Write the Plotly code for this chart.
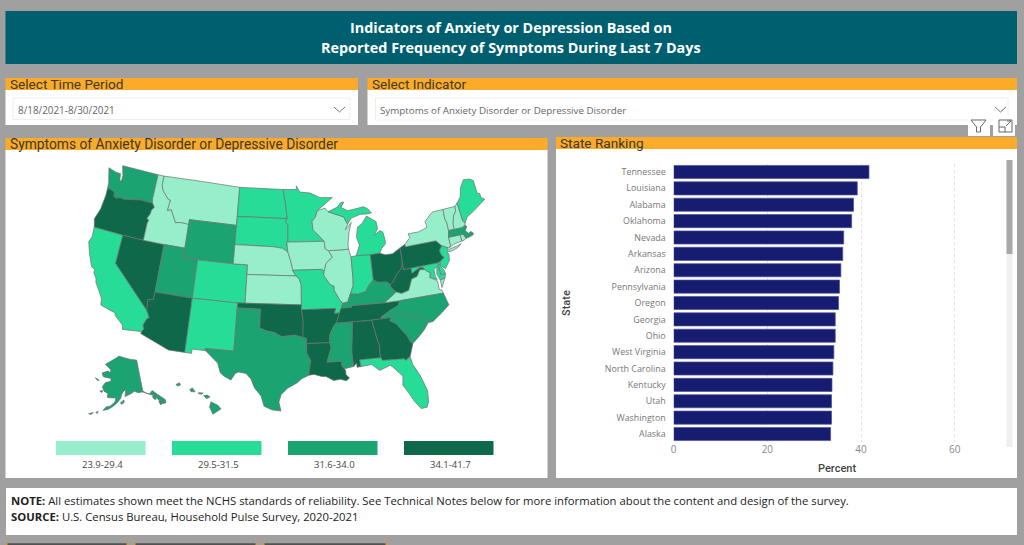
import plotly.graph_objects as go

W, H = 1024, 545
BG = "#a0a0a0"; ORANGE = "#fcaa2a"; TEAL = "#005f6f"
BIN_COLORS = ["#96efca", "#27dc97", "#1ba371", "#10684a"]
BIN_LABELS = ["23.9-29.4", "29.5-31.5", "31.6-34.0", "34.1-41.7"]
BREAKS = [23.9, 29.45, 31.55, 34.05, 41.7]

rank_states = ["Tennessee", "Louisiana", "Alabama", "Oklahoma", "Nevada", "Arkansas", "Arizona", "Pennsylvania",
               "Oregon", "Georgia", "Ohio", "West Virginia", "North Carolina", "Kentucky", "Utah", "Washington", "Alaska"]
rank_values = [41.7, 39.2, 38.4, 38.0, 36.3, 36.1, 35.7, 35.4, 35.2, 34.5, 34.5, 34.2, 34.0, 33.8, 33.7, 33.7, 33.5]

state_values = dict(TN=41.7, LA=39.2, AL=38.4, OK=38.0, NV=36.3, AR=36.1, AZ=35.7, PA=35.4, OR=35.2, GA=34.5, OH=34.5,
                    WV=34.2, NC=34.0, KY=33.8, UT=33.7, WA=33.7, AK=33.5, TX=33.2, MS=33.0, SC=32.8, WY=32.5, HI=32.2,
                    MA=31.8, CA=31.4, NM=31.2, CO=31.0, ND=30.8, SD=30.6, MN=30.5, MO=31.0, IN=31.2, MI=31.3, FL=31.1,
                    NJ=30.5, MD=30.3, DE=31.0, ME=30.2, MT=29.2, ID=29.0, NE=28.5, KS=28.8, IA=28.4, WI=28.0, IL=28.6,
                    NY=28.9, VA=29.1, NH=27.5, VT=26.5, CT=27.8, RI=27.0, DC=23.9)

# Simplified state outlines in longitude/latitude; each state is a list of rings.
OUTLINES = {
 "WA": [[(-124.73,48.38),(-123.5,48.13),(-122.75,48.13),(-122.55,47.4),(-122.3,47.4),(-122.3,48.0),(-122.5,48.4),(-122.76,49.0),(-117.03,49.0),(-117.04,46.42),(-116.92,45.99),(-118.98,46.0),(-119.3,45.93),(-119.99,45.82),(-121.2,45.65),(-121.8,45.7),(-122.3,45.55),(-122.76,45.65),(-122.9,46.1),(-123.4,46.23),(-124.0,46.27),(-124.1,46.9),(-124.4,47.6)]],
 "OR": [[(-124.0,46.27),(-123.4,46.23),(-122.9,46.1),(-122.76,45.65),(-122.3,45.55),(-121.8,45.7),(-121.2,45.65),(-119.99,45.82),(-119.3,45.93),(-118.98,46.0),(-116.92,45.99),(-116.5,45.6),(-116.85,45.2),(-116.85,44.9),(-117.2,44.3),(-116.9,44.15),(-117.03,43.83),(-117.03,42.0),(-120.0,42.0),(-124.21,42.0),(-124.55,42.84),(-124.1,44.0),(-123.95,45.5)]],
 "CA": [[(-124.21,42.0),(-120.0,42.0),(-120.0,39.0),(-114.63,35.0),(-114.13,34.3),(-114.43,34.08),(-114.72,33.4),(-114.52,33.03),(-114.72,32.72),(-117.12,32.53),(-117.28,33.0),(-118.4,33.75),(-118.5,34.03),(-119.2,34.15),(-120.5,34.45),(-120.65,35.15),(-121.9,36.6),(-122.0,36.95),(-122.5,37.5),(-122.5,37.83),(-123.0,38.0),(-123.8,39.3),(-124.35,40.4),(-124.1,41.0)]],
 "NV": [[(-120.0,42.0),(-117.03,42.0),(-114.04,42.0),(-114.04,37.0),(-114.04,36.2),(-114.75,36.1),(-114.63,35.0),(-120.0,39.0)]],
 "ID": [[(-117.03,49.0),(-116.05,49.0),(-116.05,48.0),(-115.7,47.45),(-114.7,46.7),(-114.35,46.65),(-114.5,45.55),(-113.95,45.7),(-113.45,45.05),(-113.0,44.45),(-112.3,44.55),(-111.5,44.55),(-111.05,44.48),(-111.05,42.0),(-114.04,42.0),(-117.03,42.0),(-117.03,43.83),(-116.9,44.15),(-117.2,44.3),(-116.85,44.9),(-116.85,45.2),(-116.5,45.6),(-116.92,45.99),(-117.04,46.42)]],
 "MT": [[(-116.05,49.0),(-104.05,49.0),(-104.05,45.94),(-104.05,45.0),(-111.05,45.0),(-111.05,44.48),(-111.5,44.55),(-112.3,44.55),(-113.0,44.45),(-113.45,45.05),(-113.95,45.7),(-114.5,45.55),(-114.35,46.65),(-114.7,46.7),(-115.7,47.45),(-116.05,48.0)]],
 "WY": [[(-111.05,45.0),(-104.05,45.0),(-104.05,43.0),(-104.05,41.0),(-109.05,41.0),(-111.05,41.0),(-111.05,42.0)]],
 "UT": [[(-114.04,42.0),(-111.05,42.0),(-111.05,41.0),(-109.05,41.0),(-109.05,37.0),(-114.04,37.0)]],
 "CO": [[(-109.05,41.0),(-104.05,41.0),(-102.05,41.0),(-102.05,40.0),(-102.05,37.0),(-103.0,37.0),(-109.05,37.0)]],
 "AZ": [[(-114.04,37.0),(-109.05,37.0),(-109.05,31.33),(-111.07,31.33),(-114.81,32.5),(-114.72,32.72),(-114.52,33.03),(-114.72,33.4),(-114.43,34.08),(-114.13,34.3),(-114.63,35.0),(-114.75,36.1),(-114.04,36.2)]],
 "NM": [[(-109.05,37.0),(-103.0,37.0),(-103.04,36.5),(-103.06,32.0),(-106.62,32.0),(-106.53,31.78),(-108.21,31.78),(-108.21,31.33),(-109.05,31.33)]],
 "ND": [[(-104.05,49.0),(-97.23,49.0),(-96.85,47.6),(-96.56,45.94),(-104.05,45.94)]],
 "SD": [[(-104.05,45.94),(-96.56,45.94),(-96.85,45.6),(-96.45,45.3),(-96.45,43.5),(-96.6,43.5),(-96.45,42.49),(-97.2,42.85),(-98.5,43.0),(-104.05,43.0),(-104.05,45.0)]],
 "NE": [[(-104.05,43.0),(-98.5,43.0),(-97.2,42.85),(-96.45,42.49),(-96.1,41.7),(-95.85,41.0),(-95.77,40.58),(-95.31,40.0),(-102.05,40.0),(-102.05,41.0),(-104.05,41.0)]],
 "KS": [[(-102.05,40.0),(-95.31,40.0),(-94.9,39.75),(-94.61,39.11),(-94.62,37.0),(-103.0,37.0),(-102.05,37.0)]],
 "OK": [[(-103.0,37.0),(-94.62,37.0),(-94.62,36.5),(-94.43,35.4),(-94.48,33.64),(-95.5,33.88),(-96.5,33.8),(-97.15,33.72),(-98.1,34.13),(-99.2,34.3),(-100.0,34.56),(-100.0,36.5),(-103.04,36.5)]],
 "TX": [[(-103.04,36.5),(-100.0,36.5),(-100.0,34.56),(-99.2,34.3),(-98.1,34.13),(-97.15,33.72),(-96.5,33.8),(-95.5,33.88),(-94.48,33.64),(-94.04,33.55),(-94.04,33.0),(-94.04,32.0),(-93.55,31.2),(-93.7,30.6),(-93.85,29.7),(-94.7,29.35),(-95.3,28.9),(-96.4,28.35),(-97.15,27.7),(-97.4,26.9),(-97.15,25.96),(-98.2,26.07),(-99.1,26.42),(-99.5,27.5),(-100.3,28.3),(-100.8,29.25),(-101.4,29.77),(-102.3,29.88),(-102.7,29.7),(-103.15,28.98),(-104.0,29.32),(-104.5,29.65),(-104.9,30.6),(-106.53,31.78),(-106.62,32.0),(-103.06,32.0)]],
 "MN": [[(-97.23,49.0),(-95.15,49.0),(-95.15,49.38),(-94.6,48.72),(-93.0,48.6),(-91.5,48.07),(-89.6,48.0),(-92.0,46.72),(-92.3,46.1),(-92.85,45.6),(-92.75,44.75),(-91.2,43.5),(-96.45,43.5),(-96.45,45.3),(-96.85,45.6),(-96.56,45.94),(-96.85,47.6)]],
 "IA": [[(-96.6,43.5),(-96.45,43.5),(-91.2,43.5),(-91.1,42.7),(-90.65,42.5),(-90.15,41.8),(-91.1,41.2),(-91.4,40.4),(-91.73,40.61),(-95.77,40.58),(-95.85,41.0),(-96.1,41.7),(-96.45,42.49)]],
 "MO": [[(-95.77,40.58),(-91.73,40.61),(-91.4,40.4),(-91.5,40.0),(-90.7,39.0),(-90.15,38.8),(-90.2,38.4),(-89.5,37.3),(-89.13,37.0),(-89.4,36.5),(-89.7,36.0),(-90.37,36.0),(-90.15,36.5),(-94.62,36.5),(-94.62,37.0),(-94.61,39.11),(-94.9,39.75),(-95.31,40.0)]],
 "AR": [[(-94.62,36.5),(-90.15,36.5),(-90.37,36.0),(-89.7,36.0),(-90.1,35.1),(-90.2,35.0),(-90.6,34.6),(-91.1,33.8),(-91.15,33.0),(-94.04,33.0),(-94.04,33.55),(-94.48,33.64),(-94.43,35.4)]],
 "LA": [[(-94.04,33.0),(-91.15,33.0),(-91.0,32.5),(-91.6,31.0),(-89.73,31.0),(-89.85,30.65),(-89.55,30.2),(-89.4,30.05),(-89.4,29.6),(-89.0,29.2),(-89.4,28.93),(-90.1,29.15),(-90.9,29.05),(-91.8,29.5),(-92.3,29.53),(-93.2,29.77),(-93.85,29.7),(-93.7,30.6),(-93.55,31.2),(-94.04,32.0)]],
 "MS": [[(-90.2,35.0),(-88.2,35.0),(-88.1,34.9),(-88.47,31.9),(-88.4,30.37),(-89.55,30.2),(-89.85,30.65),(-89.73,31.0),(-91.6,31.0),(-91.0,32.5),(-91.15,33.0),(-91.1,33.8),(-90.6,34.6)]],
 "AL": [[(-88.2,35.0),(-85.6,34.98),(-85.18,32.87),(-85.0,32.3),(-85.05,31.5),(-85.0,31.0),(-87.6,31.0),(-87.5,30.3),(-88.0,30.25),(-88.0,30.7),(-88.4,30.37),(-88.47,31.9),(-88.1,34.9)]],
 "TN": [[(-90.1,35.1),(-89.7,36.0),(-89.4,36.5),(-88.07,36.5),(-88.07,36.68),(-83.67,36.6),(-81.68,36.59),(-82.0,36.1),(-83.1,35.75),(-84.3,35.2),(-84.32,34.99),(-85.6,34.98),(-88.2,35.0),(-90.2,35.0)]],
 "KY": [[(-89.4,36.5),(-89.13,37.0),(-88.5,37.1),(-88.1,37.9),(-87.1,37.8),(-86.0,38.0),(-85.4,38.7),(-84.8,39.1),(-84.2,38.8),(-83.0,38.72),(-82.6,38.4),(-82.6,38.15),(-81.97,37.54),(-83.67,36.6),(-88.07,36.68),(-88.07,36.5)]],
 "IL": [[(-90.65,42.5),(-87.8,42.5),(-87.53,41.7),(-87.53,39.35),(-87.6,38.7),(-88.05,37.9),(-88.1,37.9),(-88.5,37.1),(-89.13,37.0),(-89.5,37.3),(-90.2,38.4),(-90.15,38.8),(-90.7,39.0),(-91.5,40.0),(-91.4,40.4),(-91.1,41.2),(-90.15,41.8)]],
 "WI": [[(-92.0,46.72),(-90.8,46.95),(-90.4,46.55),(-88.1,45.9),(-87.6,45.1),(-88.0,44.55),(-87.05,45.25),(-87.5,44.3),(-87.8,43.0),(-87.8,42.5),(-90.65,42.5),(-91.1,42.7),(-91.2,43.5),(-92.75,44.75),(-92.85,45.6),(-92.3,46.1)]],
 "MI": [[(-90.4,46.55),(-89.0,46.95),(-88.4,47.4),(-87.9,47.45),(-88.4,46.9),(-87.4,46.5),(-86.0,46.65),(-85.0,46.75),(-84.4,46.5),(-83.9,46.0),(-84.7,45.95),(-85.6,46.0),(-86.5,45.8),(-87.0,45.7),(-87.6,45.1),(-88.1,45.9)],
        [(-86.8,41.76),(-84.8,41.7),(-83.45,41.73),(-83.1,42.2),(-82.5,42.6),(-82.45,43.0),(-82.6,43.85),(-83.0,44.07),(-83.9,43.65),(-83.3,44.3),(-83.4,45.05),(-84.7,45.75),(-85.5,45.0),(-86.2,44.7),(-86.5,43.7),(-86.2,42.8)]],
 "IN": [[(-87.53,41.7),(-86.8,41.76),(-84.8,41.7),(-84.8,39.1),(-85.4,38.7),(-86.0,38.0),(-87.1,37.8),(-88.05,37.9),(-87.6,38.7),(-87.53,39.35)]],
 "OH": [[(-84.8,41.7),(-83.45,41.73),(-82.7,41.5),(-81.7,41.5),(-80.52,41.98),(-80.52,40.64),(-80.65,40.0),(-81.7,39.2),(-82.2,38.6),(-82.6,38.4),(-83.0,38.72),(-84.2,38.8),(-84.8,39.1)]],
 "WV": [[(-82.6,38.4),(-82.2,38.6),(-81.7,39.2),(-80.65,40.0),(-80.52,40.64),(-80.52,39.72),(-79.48,39.72),(-79.48,39.2),(-78.35,39.62),(-77.83,39.6),(-77.72,39.32),(-78.35,39.4),(-78.87,38.77),(-79.65,38.6),(-80.3,37.5),(-81.3,37.3),(-81.97,37.54),(-82.6,38.15)]],
 "PA": [[(-80.52,41.98),(-79.76,42.27),(-79.76,42.0),(-75.35,42.0),(-74.7,41.36),(-75.15,40.95),(-75.05,40.45),(-74.72,40.15),(-75.4,39.8),(-75.79,39.72),(-79.48,39.72),(-80.52,39.72),(-80.52,40.64)]],
 "NY": [[(-79.76,42.27),(-78.9,42.85),(-79.05,43.27),(-77.5,43.27),(-76.2,43.55),(-76.3,44.2),(-75.0,44.98),(-74.7,45.0),(-73.34,45.01),(-73.4,44.0),(-73.25,43.55),(-73.27,42.75),(-73.5,42.05),(-73.49,41.2),(-73.7,41.0),(-73.9,41.0),(-74.7,41.36),(-75.35,42.0),(-79.76,42.0)],
        [(-74.0,40.6),(-73.75,40.85),(-72.6,40.98),(-72.0,41.1),(-72.5,40.82),(-73.5,40.6)]],
 "NJ": [[(-74.7,41.36),(-73.9,41.0),(-74.2,40.5),(-74.0,40.4),(-74.1,39.75),(-74.9,38.95),(-75.55,39.5),(-75.4,39.8),(-74.72,40.15),(-75.05,40.45),(-75.15,40.95)]],
 "DE": [[(-75.79,39.72),(-75.4,39.8),(-75.55,39.5),(-75.1,38.8),(-75.05,38.45),(-75.7,38.46)]],
 "MD": [[(-79.48,39.72),(-75.79,39.72),(-75.7,38.46),(-75.05,38.45),(-75.25,38.03),(-75.9,37.95),(-76.2,38.6),(-76.0,39.4),(-76.45,39.1),(-76.45,38.4),(-76.3,38.05),(-77.0,38.3),(-77.25,38.4),(-77.05,38.85),(-77.72,39.32),(-77.83,39.6),(-78.35,39.62),(-79.48,39.2)]],
 "DC": [[(-77.12,38.93),(-77.04,39.0),(-76.91,38.89),(-77.04,38.79)]],
 "VA": [[(-83.67,36.6),(-81.97,37.54),(-81.3,37.3),(-80.3,37.5),(-79.65,38.6),(-78.87,38.77),(-78.35,39.4),(-77.72,39.32),(-77.05,38.85),(-77.25,38.4),(-77.0,38.3),(-76.3,37.9),(-76.3,37.0),(-75.98,36.9),(-75.87,36.55),(-81.68,36.59)],
        [(-75.9,37.95),(-75.25,38.03),(-75.9,37.15)]],
 "NC": [[(-81.68,36.59),(-75.87,36.55),(-75.5,35.25),(-76.5,34.65),(-77.9,33.9),(-78.55,33.86),(-79.67,34.8),(-80.8,34.82),(-81.05,35.15),(-82.35,35.2),(-83.1,35.0),(-84.32,34.99),(-84.3,35.2),(-83.1,35.75),(-82.0,36.1)]],
 "SC": [[(-83.1,35.0),(-82.35,35.2),(-81.05,35.15),(-80.8,34.82),(-79.67,34.8),(-78.55,33.86),(-79.2,33.2),(-80.0,32.6),(-80.85,32.03),(-81.15,32.2),(-81.5,33.0),(-81.95,33.5),(-82.6,34.3),(-83.35,34.7)]],
 "GA": [[(-85.6,34.98),(-84.32,34.99),(-83.1,35.0),(-83.35,34.7),(-82.6,34.3),(-81.95,33.5),(-81.5,33.0),(-81.15,32.2),(-80.85,32.03),(-81.45,30.72),(-82.05,30.36),(-82.2,30.57),(-84.86,30.7),(-85.0,31.0),(-85.05,31.5),(-85.0,32.3),(-85.18,32.87)]],
 "FL": [[(-87.6,31.0),(-85.0,31.0),(-84.86,30.7),(-82.2,30.57),(-82.05,30.36),(-81.45,30.72),(-81.3,29.9),(-80.55,28.45),(-80.05,26.9),(-80.15,25.75),(-80.4,25.2),(-81.1,25.15),(-81.8,26.1),(-82.2,26.9),(-82.8,27.85),(-82.65,28.8),(-83.7,29.9),(-84.0,30.1),(-85.3,29.7),(-86.2,30.4),(-87.5,30.3)]],
 "CT": [[(-73.5,42.05),(-71.8,42.02),(-71.8,41.35),(-72.9,41.25),(-73.7,41.0),(-73.49,41.2)]],
 "RI": [[(-71.8,42.02),(-71.38,42.02),(-71.13,41.5),(-71.5,41.37),(-71.8,41.35)]],
 "MA": [[(-73.5,42.05),(-73.27,42.75),(-72.46,42.73),(-71.3,42.7),(-70.8,42.87),(-70.6,42.65),(-71.0,42.3),(-70.6,41.95),(-70.25,42.07),(-69.95,41.8),(-70.1,41.65),(-70.65,41.55),(-71.13,41.5),(-71.38,42.02),(-71.8,42.02)]],
 "VT": [[(-73.34,45.01),(-71.5,45.01),(-71.6,44.5),(-72.05,44.1),(-72.4,43.3),(-72.46,42.73),(-73.27,42.75),(-73.25,43.55),(-73.4,44.0)]],
 "NH": [[(-71.5,45.01),(-71.08,45.3),(-71.03,44.65),(-70.97,43.35),(-70.7,43.07),(-70.8,42.87),(-71.3,42.7),(-72.46,42.73),(-72.4,43.3),(-72.05,44.1),(-71.6,44.5)]],
 "ME": [[(-71.03,44.65),(-71.08,45.3),(-70.4,45.8),(-70.0,46.7),(-69.23,47.46),(-68.3,47.35),(-67.8,47.07),(-67.8,45.7),(-67.45,45.6),(-67.45,45.15),(-67.0,44.85),(-68.5,44.25),(-69.1,44.0),(-70.2,43.6),(-70.7,43.07),(-70.97,43.35)]],
 "AK": [[(-141.0,69.65),(-141.0,60.3),(-139.7,59.6),(-137.5,58.9),(-135.5,59.75),(-133.5,58.4),(-130.0,55.9),(-130.3,55.0),(-131.7,55.0),(-133.2,56.3),(-134.3,57.3),(-135.8,58.3),(-138.0,59.0),(-139.7,59.6),(-141.4,60.0),(-143.9,60.0),(-146.0,60.6),(-148.0,60.0),(-149.5,59.7),(-151.9,59.2),(-151.4,60.8),(-150.0,61.2),(-152.5,60.9),(-153.9,59.7),(-154.3,58.7),(-156.5,57.2),(-158.5,56.2),(-161.0,55.2),(-163.5,54.7),(-162.0,55.9),(-160.0,56.2),(-157.5,57.6),(-157.1,58.8),(-158.6,58.7),(-162.0,58.7),(-162.0,59.9),(-164.5,60.4),(-166.0,61.6),(-164.5,63.0),(-161.0,63.6),(-161.2,64.5),(-163.0,64.5),(-166.5,64.6),(-168.0,65.6),(-164.0,66.5),(-162.0,66.1),(-162.0,67.0),(-166.8,68.4),(-163.0,69.5),(-157.0,71.0),(-156.5,71.3),(-152.0,70.85),(-146.0,70.15)],
        [(-154.5,57.4),(-152.5,58.2),(-152.4,57.5),(-153.8,56.9)],
        [(-133.6,56.2),(-132.0,56.0),(-131.8,55.2),(-133.3,54.9)],
        [(-136.3,58.0),(-134.8,58.2),(-134.6,56.9),(-135.7,57.1)],
        [(-166.9,53.8),(-165.8,54.2),(-166.2,53.5)],
        [(-170.3,52.9),(-168.2,53.6),(-168.9,52.9)],
        [(-165.3,60.5),(-166.4,60.4),(-167.0,60.2),(-165.7,59.9)],
        [(-171.7,63.8),(-168.8,63.3),(-170.2,63.2)]],
 "HI": [[(-155.9,20.25),(-155.1,19.85),(-154.8,19.5),(-155.7,18.95),(-156.05,19.7)],
        [(-156.7,20.9),(-156.3,20.95),(-156.0,20.75),(-156.4,20.58)],
        [(-158.25,21.55),(-157.95,21.7),(-157.65,21.3),(-158.1,21.3)],
        [(-159.8,22.05),(-159.4,22.23),(-159.3,22.0),(-159.6,21.9)],
        [(-157.3,21.2),(-156.75,21.17),(-156.9,21.05),(-157.25,21.1)]],
}


def X(p): return p / W
def Y(p): return 1 - p / H


def rect(x0, y0, x1, y1, fill, line=None, lw=0):
    return dict(type="rect", xref="paper", yref="paper", x0=X(x0), x1=X(x1), y0=Y(y0), y1=Y(y1),
                fillcolor=fill, line=dict(color=line or fill, width=lw), layer="below")


def txt(x, y, s, size=11, color="#333", font="Open Sans", anchor="left", angle=0):
    return dict(xref="paper", yref="paper", x=X(x), y=Y(y), text=s, showarrow=False, xanchor=anchor, yanchor="middle",
                textangle=angle, font=dict(size=size, color=color, family=font))


def path(points, color="#666", lw=1):
    d = "M" + " L".join(f"{X(a):.5f},{Y(b):.5f}" for a, b in points)
    return dict(type="path", xref="paper", yref="paper", path=d, line=dict(color=color, width=lw), layer="above")


def bin_color(v):
    for i, c in enumerate(BIN_COLORS):
        if v <= BREAKS[i + 1]:
            return c
    return BIN_COLORS[-1]


def clockwise(ring):
    area = sum(a[0] * b[1] - b[0] * a[1] for a, b in zip(ring, ring[1:] + ring[:1]))
    return ring if area < 0 else ring[::-1]


shapes = [
    rect(5.5, 11, 1017, 64, TEAL),
    rect(5.5, 78, 358, 90, ORANGE), rect(5.5, 90, 358, 125, "#fff"),
    rect(367.5, 78, 1017, 90, ORANGE), rect(367.5, 90, 1017, 125, "#fff"),
    rect(13, 98, 350, 119.5, "#fff", "#eeeeee", 1), rect(375.5, 98, 1008, 120, "#fff", "#eeeeee", 1),
    rect(5.5, 138, 547.5, 150, ORANGE), rect(5.5, 150, 547.5, 478, "#fff"),
    rect(556, 137, 1017, 149, ORANGE), rect(556, 149, 1017, 478, "#fff"),
    rect(6, 488, 1017, 535, "#fff"),
    rect(968, 115, 990, 136, "#fff"), rect(993, 115, 1015, 136, "#fff"),
    rect(1006.5, 160, 1012.5, 447, "#efefef"), rect(1006.5, 160, 1012.5, 254, "#a8a8a8"),
    path([(334, 107), (339.5, 112), (345, 107)], "#777"),
    path([(995, 107), (1000.5, 112), (1006, 107)], "#777"),
    path([(971, 120), (986, 120), (980.5, 127), (980.5, 132), (976.5, 132), (976.5, 127), (971, 120)], "#666"),
    path([(999, 127), (999, 120), (1012, 120), (1012, 132), (999, 132), (999, 127), (1005, 127), (1005, 132)], "#666"),
    path([(1006, 126), (1011, 121), (1007, 121)], "#666"),
]
for left, right in [(6, 128), (134, 257), (263, 387)]:
    shapes.append(rect(left, 543.3, right, 548, "#525252"))
    shapes.append(rect(left - 0.5, 543, left + 1.5, 545, "#d99a35"))
    shapes.append(rect(right - 1.5, 543, right + 0.5, 545, "#d99a35"))
for i, c in enumerate(BIN_COLORS):
    x0 = [56, 172, 288, 404][i]
    shapes.append(rect(x0, 441, x0 + 89.5, 455, c))

TITLE_FONT = "Open Sans"
annotations = [
    txt(511, 27, "<b>Indicators of Anxiety or Depression Based on</b>", 14.4, "#fff", TITLE_FONT, "center"),
    txt(511, 47.5, "<b>Reported Frequency of Symptoms During Last 7 Days</b>", 14.4, "#fff", TITLE_FONT, "center"),
    txt(8, 84, "Select Time Period", 13.6, "#3a3a2a", "Roboto"),
    txt(370, 84, "Select Indicator", 13.6, "#3a3a2a", "Roboto"),
    txt(16, 110, "8/18/2021-8/30/2021", 9.9, "#666"),
    txt(378, 110, "Symptoms of Anxiety Disorder or Depressive Disorder", 9.8, "#666"),
    txt(8, 144, "Symptoms of Anxiety Disorder or Depressive Disorder", 13.8, "#3a3a2a", "Roboto"),
    txt(558, 143, "State Ranking", 13.6, "#3a3a2a", "Roboto"),
    txt(9, 500.5, "<b>NOTE:</b> All estimates shown meet the NCHS standards of reliability. See Technical Notes below for more information about the content and design of the survey.", 11.3, "#222"),
    txt(9, 516, "<b>SOURCE:</b> U.S. Census Bureau, Household Pulse Survey, 2020-2021", 11.3, "#222"),
    txt(566, 303, "State", 11, "#444", "Roboto Medium, Roboto", "center", -90),
    txt(837, 468, "Percent", 11, "#444", "Roboto Medium, Roboto", "center"),
]
for i, lab in enumerate(BIN_LABELS):
    annotations.append(txt([102, 218, 334.5, 450.5][i], 464.5, lab, 9.5, "#444", anchor="center"))

fig = go.Figure()
for code, rings in OUTLINES.items():
    lons, lats = [], []
    for ring in rings:
        r = clockwise(ring)
        r = r + r[:1]
        lons += [p[0] for p in r] + [None]
        lats += [p[1] for p in r] + [None]
    fig.add_trace(go.Scattergeo(lon=lons[:-1], lat=lats[:-1], mode="lines", fill="toself", name=code,
                                fillcolor=bin_color(state_values[code]), line=dict(color="#707070", width=0.7)))

fig.add_trace(go.Bar(y=rank_states, x=rank_values, orientation="h", width=0.8,
                     marker=dict(color="#161c70", line=dict(color="#4a5099", width=0.7)), xaxis="x", yaxis="y"))
fig.update_layout(
    width=W, height=H, margin=dict(l=0, r=0, t=0, b=0, autoexpand=False), paper_bgcolor=BG, plot_bgcolor="#fff",
    showlegend=False, shapes=shapes, annotations=annotations,
    geo=dict(scope="usa", projection_type="albers usa", domain=dict(x=[X(36.5), X(536.5)], y=[Y(443.25), Y(133.75)]),
             bgcolor="rgba(0,0,0,0)", showlakes=False, showland=False, showframe=False, showcoastlines=False,
             showcountries=False, showsubunits=False, showocean=False, showrivers=False),
    xaxis=dict(domain=[X(673.7), X(1001.5)], range=[0, 70], tickvals=[0, 20, 40, 60], showgrid=True,
               gridcolor="#e2e2e2", griddash="dot", gridwidth=1, zeroline=False, showline=False, anchor="y",
               tickfont=dict(size=10, color="#888", family="Open Sans"), ticks=""),
    yaxis=dict(domain=[Y(442.2), Y(163.8)], autorange=False, range=[16.5, -0.5], type="category",
               categoryorder="array", categoryarray=rank_states, showgrid=False, showline=False, ticks="", anchor="x",
               tickfont=dict(size=8.9, color="#777", family="Open Sans"), ticklabelstandoff=7),
)
fig.write_html("out.html", config=dict(displayModeBar=False),
               post_script="document.body.style.margin='0';document.body.style.overflow='hidden';")
